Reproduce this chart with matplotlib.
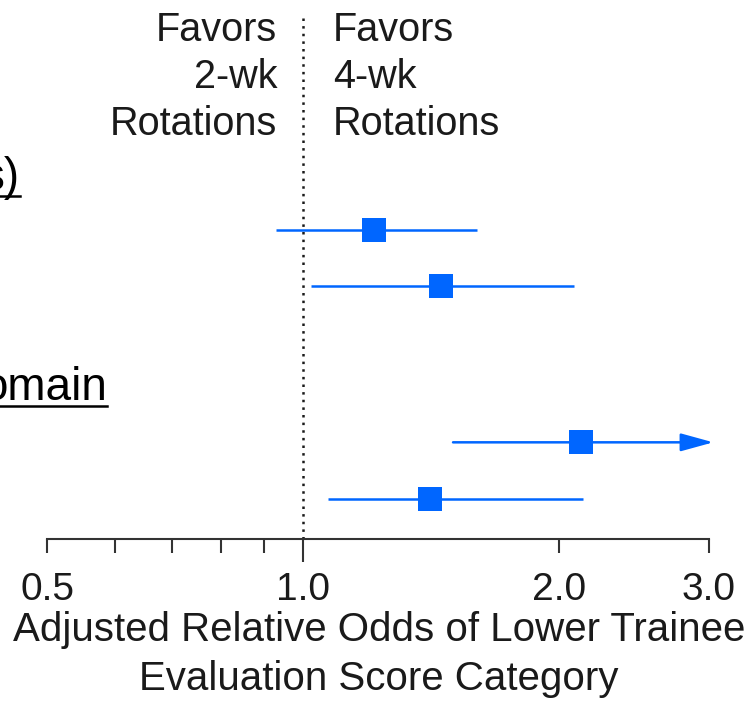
import numpy as np
import matplotlib
matplotlib.use("Agg")
import matplotlib.pyplot as plt
from matplotlib.lines import Line2D

# Adjusted relative odds (point estimate with 95% CI) for each comparison row
odds_ratio = [1.21, 1.45, 2.12, 1.41]
ci_lower = [0.93, 1.02, 1.50, 1.07]
ci_upper = [1.60, 2.08, None, 2.13]   # None: interval continues past the axis

rows_per_group = [2, 2]
group_titles = ["s)", "omain"]

major_ticks = [0.5, 1.0, 2.0, 3.0]
tick_labels = ["0.5", "1.0", "2.0", "3.0"]
minor_ticks = [0.6, 0.7, 0.8, 0.9]

favors_left = ["Favors", "2-wk", "Rotations"]
favors_right = ["Favors", "4-wk", "Rotations"]
x_label_lines = ["Adjusted Relative Odds of Lower Trainee",
                 "Evaluation Score Category"]

# ---- styling / layout -------------------------------------------------
BLUE = "#0066ff"
INK = "#1a1a1a"
AXIS = "#333333"
plt.rcParams["font.family"] = ["Liberation Sans", "DejaVu Sans"]

W, H = 751, 724
fig = plt.figure(figsize=(W / 100, H / 100), dpi=100)


def fx(px):
    return px / W


def fy(py):
    return 1 - py / H


x_max = 3.035          # right limit, arrowheads end here
axis_y = 539           # pixel row of the x axis line
ax = fig.add_axes([fx(47.3), fy(axis_y), fx(713.3) - fx(47.3), axis_y / H])
ax.set_xscale("log")
ax.set_xlim(0.5, x_max)

# vertical positions (in row units) of each estimate
row_pitch_px = 56.4
group_gap = 1.77
ypos = []
start = 0.0
for n in rows_per_group:
    ypos.extend(start + np.arange(n))
    start += n + group_gap
first_row_px = 229.7
ax.set_ylim((axis_y - first_row_px) / row_pitch_px, -first_row_px / row_pitch_px)

# reference line at OR = 1
ax.axvline(1.0, ymin=0, ymax=(axis_y - 15) / axis_y, color=INK, lw=1.8,
           ls=(0, (1, 2.05)), zorder=1)

for y, est, lo, hi in zip(ypos, odds_ratio, ci_lower, ci_upper):
    if hi is None:
        ax.annotate("", xy=(x_max, y), xytext=(lo, y),
                    arrowprops=dict(arrowstyle="-|>,head_length=2.0,head_width=0.55",
                                    color=BLUE, lw=1.8, shrinkA=0, shrinkB=0,
                                    mutation_scale=10))
    else:
        ax.plot([lo, hi], [y, y], color=BLUE, lw=1.8, solid_capstyle="butt", zorder=2)
    ax.plot([est], [y], marker="s", ms=17, color=BLUE, mec=BLUE, mew=0, zorder=3)

# axis styling
for side in ("top", "right", "left"):
    ax.spines[side].set_visible(False)
ax.spines["bottom"].set_bounds(0.5, 3.0)
ax.spines["bottom"].set_linewidth(1.5)
ax.spines["bottom"].set_color(AXIS)
ax.set_yticks([])
ax.set_xticks(major_ticks)
ax.set_xticklabels(tick_labels)
ax.set_xticks(minor_ticks, minor=True)
ax.xaxis.set_minor_formatter(plt.NullFormatter())
ax.tick_params(axis="x", which="both", direction="out", length=10, width=1.5,
               color=AXIS)
ax.tick_params(axis="x", which="major", labelsize=28, labelcolor=INK, pad=14)
ax.xaxis.get_major_ticks()[major_ticks.index(1.0)].tick1line.set_markersize(16.5)
ax.patch.set_alpha(0)

# "Favors" annotations on either side of the reference line
for line, base in zip(favors_left, [40.7, 88.3, 135.0]):
    fig.text(fx(277), fy(base), line, ha="right", va="baseline",
             fontsize=28.5, color=INK)
for line, base in zip(favors_right, [40.7, 88.3, 135.0]):
    fig.text(fx(333), fy(base), line, ha="left", va="baseline",
             fontsize=28.5, color=INK)

# axis title, two lines
for line, base in zip(x_label_lines, [641, 690]):
    fig.text(fx(379), fy(base), line, ha="center", va="baseline",
             fontsize=29, color=INK)

# underlined group titles
titles = []
for title, right_px, base in zip(group_titles, [20, 107], [190, 400]):
    t = fig.text(fx(right_px), fy(base), title, ha="right", va="baseline",
                 fontsize=33, color="black")
    titles.append((t, base))

fig.canvas.draw()
renderer = fig.canvas.get_renderer()
for t, base in titles:
    bb = t.get_window_extent(renderer)
    uy = fy(base + 6)
    fig.add_artist(Line2D([max(bb.x0, 0) / W, bb.x1 / W], [uy, uy],
                          transform=fig.transFigure, color="black", lw=1.8))

fig.savefig("out.png", dpi=100)
